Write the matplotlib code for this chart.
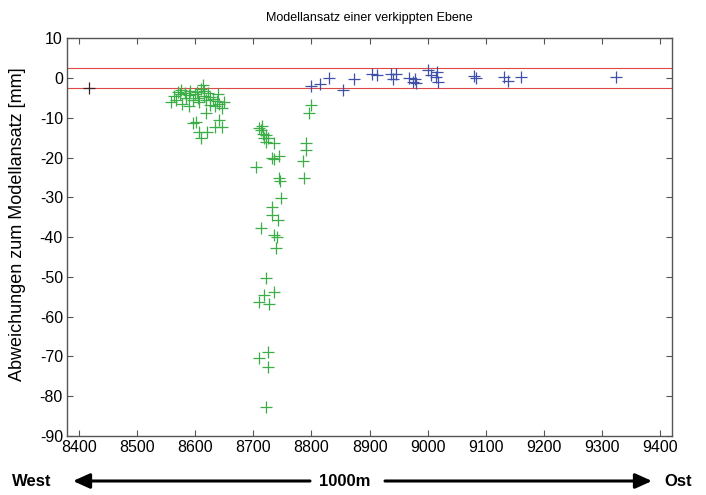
import matplotlib
matplotlib.use("Agg")
import matplotlib.pyplot as plt

plt.rcParams['font.family'] = ['Liberation Sans', 'DejaVu Sans']
plt.rcParams['axes.unicode_minus'] = False

# reference point (west end)
ref_x = [8417]
ref_y = [-2.6]

# green: deviations outside the band
green_x = [8558, 8563, 8567, 8570, 8574, 8578, 8582, 8585, 8589, 8592, 8596, 8600,
           8603, 8606, 8610, 8613, 8616, 8619, 8622, 8626, 8630, 8634, 8638, 8642,
           8646, 8650, 8575, 8590, 8605, 8615, 8625, 8640,
           8619, 8601, 8596, 8607, 8621, 8610, 8641, 8647, 8635,
           8710, 8713, 8716, 8719, 8722, 8715, 8725, 8722, 8736, 8733, 8744, 8736,
           8705, 8744, 8746, 8748, 8733, 8733, 8742, 8713, 8736, 8740, 8739,
           8722, 8719, 8736, 8710, 8727, 8725, 8710, 8725, 8722,
           8799, 8796, 8791, 8791, 8785, 8788]
green_y = [-6.0, -4.5, -5.5, -3.5, -4.0, -6.5, -3.8, -5.0, -4.2, -3.2, -5.5, -4.0,
           -3.5, -6.0, -2.8, -1.8, -4.5, -5.5, -3.8, -6.8, -5.2, -7.0, -5.8, -6.5,
           -7.5, -6.0, -3.0, -7.0, -5.0, -3.2, -4.8, -4.0,
           -8.8, -11.0, -11.4, -13.5, -13.5, -15.0, -10.6, -12.3, -12.3,
           -12.5, -13.0, -14.0, -15.0, -16.0, -12.0, -15.0, -14.4, -16.4, -20.0, -19.7, -20.5,
           -22.3, -25.2, -26.0, -30.2, -32.4, -34.5, -35.7, -37.8, -39.5, -40.0, -42.8,
           -50.4, -54.6, -53.7, -56.3, -56.7, -68.8, -70.5, -72.6, -82.6,
           -6.9, -8.9, -16.4, -18.1, -21.0, -25.2]

# blue: deviations within the band
blue_x = [8800, 8815, 8830, 8854, 8873, 8905, 8913, 8937, 8940, 8946, 8968, 8975,
          8978, 8980, 9000, 9006, 9014, 9016, 9018, 9080, 9083, 9131, 9138, 9160, 9324]
blue_y = [-2.0, -1.5, 0.0, -3.1, -0.3, 1.1, 0.8, 1.1, -0.3, 1.1, 0.0, -1.0,
          -0.3, -1.3, 2.0, 0.7, 0.3, 1.6, -1.0, 0.5, 0.0, 0.3, -0.8, 0.3, 0.3]

band = [2.5, -2.5]
x_ticks = list(range(8400, 9401, 100))
y_ticks = list(range(-90, 11, 10))

fig = plt.figure(figsize=(7.06, 4.95), dpi=100)
ax = fig.add_axes([0.095, 0.119, 0.857, 0.804])

for b in band:
    ax.axhline(b, color='#e04848', lw=0.8)

ax.plot(green_x, green_y, '+', color='#3cae48', ms=9, mew=0.9)
ax.plot(blue_x, blue_y, '+', color='#4050a8', ms=9, mew=0.9)
ax.plot(ref_x, ref_y, '+', color='#402020', ms=9, mew=0.9)

ax.set_xlim(8380, 9420)
ax.set_ylim(-90, 10)
ax.set_xticks(x_ticks)
ax.set_yticks(y_ticks)
ax.tick_params(direction='in', top=True, right=True, length=4, width=0.8,
               color='#555555', labelsize=11.5, pad=3)
for s in ax.spines.values():
    s.set_color('#555555')
    s.set_linewidth(1.0)

ax.set_title('Modellansatz einer verkippten Ebene', fontsize=9, pad=12)
ax.set_ylabel('Abweichungen zum Modellansatz [mm]', fontsize=13)
ax.yaxis.set_label_coords(-0.068, 0.533)

# direction annotation below the axes
fw, fh = 706, 495
y_arr = 1 - 481 / fh
fig.text(12 / fw, y_arr, 'West', fontsize=12, fontweight='bold', va='center', ha='left')
fig.text(345 / fw, y_arr, '1000m', fontsize=12, fontweight='bold', va='center', ha='center')
fig.text(664 / fw, y_arr, 'Ost', fontsize=12, fontweight='bold', va='center', ha='left')
arrow = dict(arrowstyle='-|>,head_length=1.0,head_width=0.45', color='black', lw=2.2,
             shrinkA=0, shrinkB=0)
ax.annotate('', xy=(73 / fw, y_arr), xytext=(310 / fw, y_arr),
            xycoords='figure fraction', textcoords='figure fraction', arrowprops=arrow)
ax.annotate('', xy=(652 / fw, y_arr), xytext=(385 / fw, y_arr),
            xycoords='figure fraction', textcoords='figure fraction', arrowprops=arrow)

fig.savefig('out.png', dpi=100)
